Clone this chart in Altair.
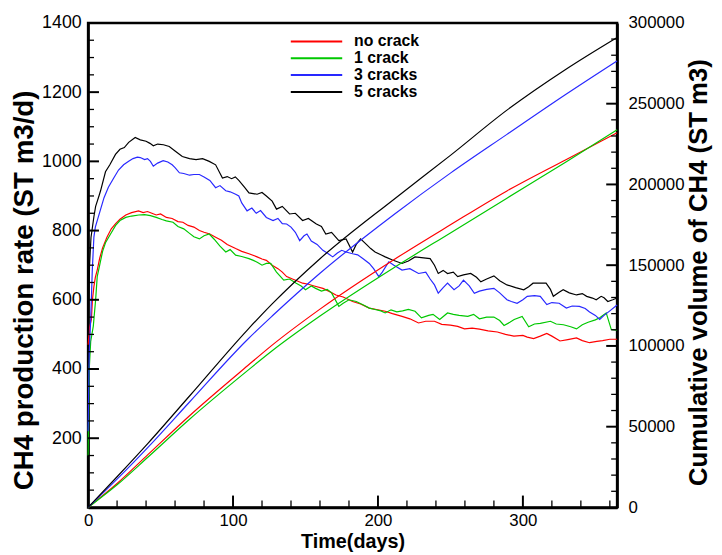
import altair as alt
import pandas as pd

# ---------------- data ----------------
series_labels = ["no crack", "\u00a01 crack", "3 cracks", "5 cracks"]
series_colors = ["#ff0000", "#00c800", "#2828ff", "#000000"]

# CH4 production rate (ST m3/d) -> left axis, (day, value)
rate_no_crack = [(0,470),(1,520),(2.3,543),(3,600),(4,638),(5,665),(6.3,686),(8,720),(10,750),(13,781),(16,805),(19,820),(22,833),(26,845),(30,852),(34.8,857),(38,852),(41,855),(44,850),(47,845),(50,848),(54,838),(58,835),(62,826),(65.4,824),(69,815),(73,810),(76.8,800),(80,795),(84,790),(88,781),(92,772),(96,760),(101.8,748),(106,740),(111,733),(116.6,724),(120,718),(123,714),(127,700),(131,690),(134,680),(137,667),(141,660),(144,655),(148,648),(152,645),(156,640),(162,633),(166,625),(171,614),(176,608),(182.5,595),(188,588),(194,576),(199,572),(205,567),(210,560),(216.6,552),(222,545),(228,533),(233,538),(239,538),(244,529),(250,527),(255,523),(259.7,516),(265,518),(270,515),(276,510),(282.4,507),(288,500),(293.8,495),(300,497),(303,492),(307.4,488),(312,495),(316.5,503),(320,495),(325.6,481),(331,485),(337,490),(341,482),(346,476),(351,480),(355,482),(360,486),(365,486)]
rate_1_crack = [(0,150),(0.8,400),(1.8,480),(3.6,524),(5.2,600),(6.3,667),(8,700),(10,740),(12,765),(15.5,790),(19,815),(22,829),(26,838),(30,842),(35,845),(39,846),(43,843),(47,838),(51,832),(54,828),(58.6,824),(62,812),(66,805),(70,792),(73,782),(76.8,776),(80,785),(83.6,790),(87,775),(91,755),(95,738),(98,745),(101.8,729),(106,725),(111,719),(114,714),(117,708),(120,700),(123,705),(126,705),(130,680),(135,657),(139,660),(143.6,648),(147,640),(150,629),(154,640),(157,633),(161,625),(165,630),(168,620),(173,581),(176,590),(180,600),(185,595),(190,585),(194,576),(198,572),(202,568),(205,562),(209,571),(213,565),(217,568),(221,572),(225.6,567),(230,548),(235,555),(238,558),(242.6,543),(248,562),(252,558),(256,555),(262,552),(266,558),(270,545),(275,550),(280,550),(284,540),(287,526),(291,535),(294,543),(299.5,552),(304,522),(308,530),(312,532),(319,538),(323,530),(328,528),(333,522),(337,516),(341,528),(345,535),(350,542),(353,548),(357.5,562),(361,514),(365,512)]
rate_3_cracks = [(0,220),(0.8,450),(1.8,543),(2.9,686),(4,781),(5,810),(6.3,829),(8.5,860),(11,895),(14,925),(17.7,952),(21,975),(24.5,990),(28,1000),(31,1008),(34,1012),(36,1011),(39,1005),(41,1008),(43,1000),(45,986),(48,995),(51.8,1002),(55,998),(58,990),(60,982),(63,967),(66,965),(70,960),(73,962),(76.8,962),(80,955),(84,945),(88,924),(91,930),(95,915),(98,912),(101.8,905),(104,900),(106,880),(109.7,857),(113,865),(116,850),(119,858),(123,838),(127.6,829),(131,835),(134,820),(137,819),(140,810),(143,795),(146,771),(149,785),(151,790),(154,770),(158,760),(162,743),(165,735),(168.8,724),(172,735),(175,743),(178,738),(182.5,733),(186,730),(190,718),(194,705),(197,690),(200.6,667),(203,680),(207.5,710),(211,700),(216.6,686),(222,690),(228,676),(233,680),(236,660),(239,643),(241.6,619),(245,635),(248,648),(252.5,629),(256,640),(259,657),(263,640),(266.5,619),(270,625),(275,630),(280,633),(284,620),(289,600),(292,595),(296,590),(300,600),(303,610),(308,612),(312,610),(316.5,586),(320,592),(325,590),(330,576),(334,582),(339,581),(343,575),(346,565),(350,555),(353,543),(356,555),(360,568),(365,585)]
rate_5_cracks = [(0,500),(1,700),(2,780),(4,840),(5.2,870),(7.5,900),(8.6,915),(12,970),(15,990),(18.9,1020),(22,1035),(25,1040),(28,1055),(32.5,1069),(36,1062),(40,1058),(42.7,1052),(45,1045),(48,1050),(52,1048),(56,1043),(60,1030),(65,1014),(70,1008),(74.5,1005),(79,1008),(83.6,1000),(88,990),(92.7,952),(96,956),(99,950),(101.6,955),(104,945),(108,925),(111,909),(116.6,905),(120,910),(123,900),(127,885),(130,862),(134,870),(139,848),(143,850),(148,829),(152,835),(157.5,819),(161,812),(164,790),(168,795),(173,771),(178,776),(182.5,738),(185,760),(188,776),(192,760),(195,748),(198,738),(202,730),(205,724),(210,715),(216.6,705),(221,712),(225.6,724),(230,722),(236,719),(239,700),(241.6,676),(245,685),(248,676),(252,680),(255,667),(259,672),(264,676),(268,665),(271,652),(275,660),(280,669),(284,655),(289,643),(295,635),(300.6,629),(304,638),(307,648),(312,648),(316,648),(319,630),(321,610),(325,622),(327.8,629),(332,620),(337,614),(341,618),(344,610),(348,605),(350.6,600),(354,610),(356,606),(358.6,595),(362,600),(365,605)]

# Cumulative volume of CH4 (ST m3) -> right axis
cum_days = [0, 20, 41.6, 70, 110, 127, 160, 212, 250, 289, 330, 365]
cum_no_crack = [0, 14800, 33000, 56800, 87700, 100500, 122800, 154000, 175000, 196000, 215500, 232000]
cum_1_crack = [0, 14000, 31400, 54600, 84700, 97000, 118500, 149000, 170000, 191500, 214000, 233800]
cum_3_cracks = [0, 17500, 37500, 65300, 104000, 118500, 145000, 182000, 207000, 231000, 256000, 276500]
cum_5_cracks = [0, 19000, 40000, 69000, 110000, 126000, 154000, 191500, 218000, 246000, 271500, 291000]

# axis ticks
x_major = [100, 200, 300]
x_minor = [20, 40, 60, 80, 120, 140, 160, 180, 220, 240, 260, 280, 320, 340, 360]
left_major = [200, 400, 600, 800, 1000, 1200]
left_minor = [v for v in range(50, 1400, 50) if v % 200 != 0]
right_major = [50000, 100000, 150000, 200000, 250000]
right_minor = [v for v in range(10000, 300000, 10000) if v % 50000 != 0]

# ---------------- tables ----------------
rate_rows = []
for name, pts in zip(series_labels, [rate_no_crack, rate_1_crack, rate_3_cracks, rate_5_cracks]):
    for t, v in pts:
        rate_rows.append({"t": t, "rate": v, "series": name})
rate_df = pd.DataFrame(rate_rows)

cum_rows = []
for name, vals in zip(series_labels, [cum_no_crack, cum_1_crack, cum_3_cracks, cum_5_cracks]):
    for t, v in zip(cum_days, vals):
        cum_rows.append({"t": t, "cum": v, "series": name})
cum_df = pd.DataFrame(cum_rows)

W, H = 535, 490
FONT = "Liberation Sans"
XDOM = [0, 365]
LDOM = [0, 1400]
RDOM = [0, 300000]

xs = alt.Scale(domain=XDOM, nice=False, zero=False)
x_axis = alt.Axis(
    values=[0, 100, 200, 300], title="Time(days)", ticks=False, grid=False,
    labelFontSize=17, labelPadding=5, labelFlush=False,
    titleFontSize=20, titleBaseline="alphabetic", titleY=41,
)

color = alt.Color(
    "series:N",
    scale=alt.Scale(domain=series_labels, range=series_colors),
    sort=series_labels,
    legend=alt.Legend(
        orient="none", legendX=204, legendY=11, title=None,
        symbolType="stroke", symbolSize=2704, symbolStrokeWidth=2,
        labelFont=FONT, labelFontSize=16, labelFontWeight="bold", labelColor="black",
        labelOffset=11, rowPadding=0, padding=0, clipHeight=15.5,
    ),
)

rate_lines = alt.Chart(rate_df).mark_line(strokeWidth=1.2).encode(
    x=alt.X("t:Q", scale=xs, axis=x_axis),
    y=alt.Y("rate:Q", scale=alt.Scale(domain=LDOM, nice=False), axis=alt.Axis(
        values=[200, 400, 600, 800, 1000, 1200, 1400], format="d",
        title="CH4 production rate (ST m3/d)",
        ticks=False, grid=False, labelPadding=7,
        titleX=-64, titleY=270, titleBaseline="middle",
    )),
    color=color,
)

cum_lines = alt.Chart(cum_df).mark_line(strokeWidth=1.2, interpolate="monotone").encode(
    x=alt.X("t:Q", scale=xs, axis=x_axis),
    y=alt.Y("cum:Q", scale=alt.Scale(domain=RDOM, nice=False), axis=alt.Axis(
        orient="right", values=list(range(0, 300001, 50000)), format="d",
        labelFontSize=17,
        title="Cumulative volume of CH4 (ST m3)", titleAngle=-90, titleFontSize=26,
        ticks=False, grid=False, labelPadding=11,
        titleX=82, titleY=252, titleBaseline="middle",
    )),
    color=color,
)


def vtick(vals, dom, x0, x1, sw):
    return alt.Chart(pd.DataFrame({"v": vals})).mark_rule(color="black", strokeWidth=sw).encode(
        y=alt.Y("v:Q", scale=alt.Scale(domain=dom, nice=False), axis=None),
        x=alt.value(x0), x2=alt.value(x1),
    )


def htick(vals, y0, y1, sw):
    return alt.Chart(pd.DataFrame({"t": vals})).mark_rule(color="black", strokeWidth=sw).encode(
        x=alt.X("t:Q", scale=xs, axis=x_axis),
        y=alt.value(y0), y2=alt.value(y1),
    )


layers = [
    rate_lines,
    cum_lines,
    vtick(left_major, LDOM, 0, 11, 2),
    vtick(left_minor, LDOM, 0, 6, 1.3),
    vtick(right_major, RDOM, W, W - 11, 2),
    vtick(right_minor, RDOM, W, W - 6, 1.3),
    htick(x_major, H, H - 12, 2),
    htick(x_minor, H, H - 7, 1.3),
]

chart = alt.layer(*layers).resolve_scale(y="independent").properties(
    width=W, height=H,
    autosize=alt.AutoSizeParams(type="none"),
    padding={"left": 81, "top": 12, "right": 98, "bottom": 45},
).configure_view(
    stroke="black", strokeWidth=2.5,
).configure_axis(
    labelFont=FONT, labelFontSize=18, labelColor="black",
    titleFont=FONT, titleFontSize=28, titleFontWeight="bold", titleColor="black",
    domainColor="black", domainWidth=2.5,
)

chart.save("out.html", embed_options={"renderer": "svg", "actions": False})
